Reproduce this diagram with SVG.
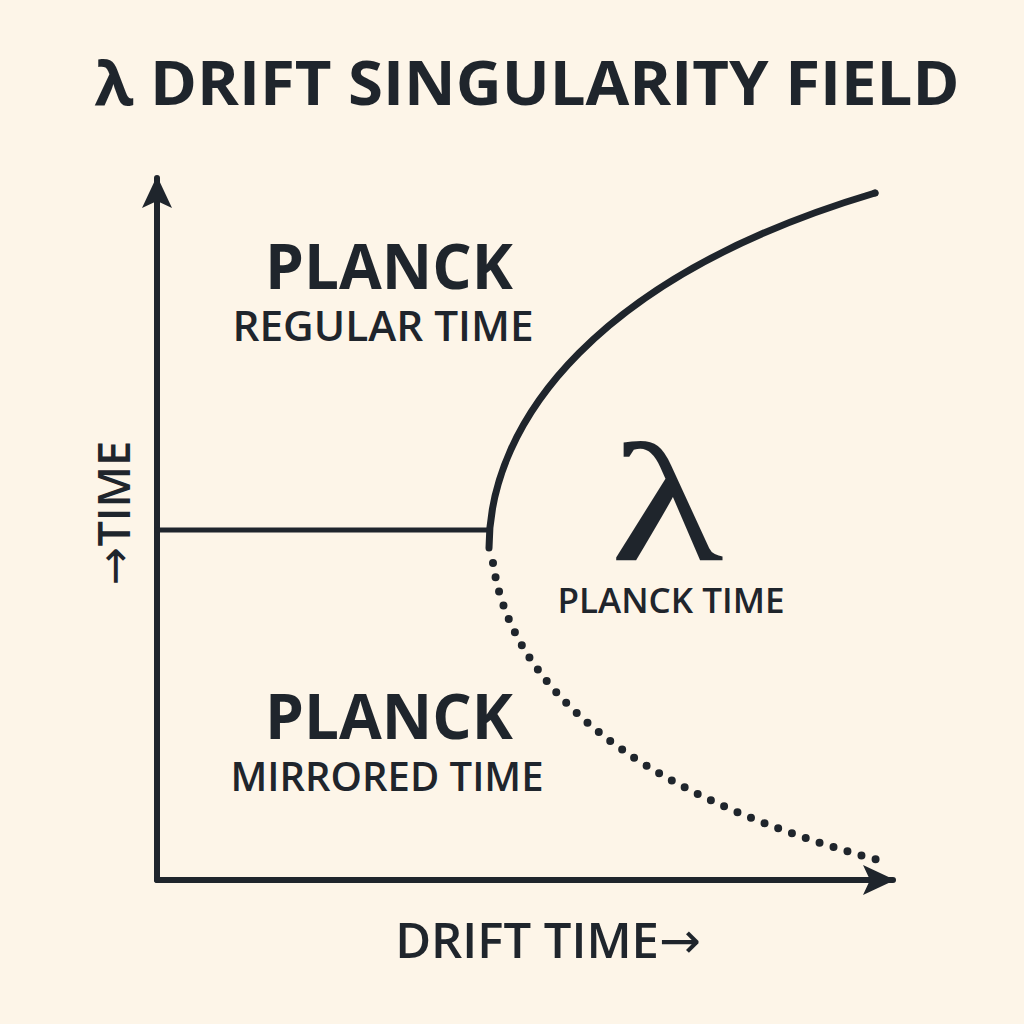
<svg xmlns="http://www.w3.org/2000/svg" width="1024" height="1024" viewBox="0 0 1024 1024">
<style>
.ink{fill:#1f252c}
.line{fill:none;stroke:#1f252c;stroke-linecap:round}
.sans{font-family:"Open Sans","Liberation Sans",sans-serif;fill:#1f252c}
.arr{font-family:"DejaVu Sans",sans-serif;font-weight:400}
</style>
<defs>
<marker id="ah" viewBox="0 0 34 32" refX="30" refY="16" markerWidth="34" markerHeight="32" markerUnits="userSpaceOnUse" orient="auto">
<path d="M0,1 L32,16 L0,31 L7,16 Z" fill="#1f252c"/>
</marker>
</defs>
<rect width="1024" height="1024" fill="#fdf5e8"/>
<g id="title">
<text class="sans" x="527" y="105" font-size="60" font-weight="700" text-anchor="middle" textLength="865" lengthAdjust="spacingAndGlyphs">λ DRIFT SINGULARITY FIELD</text>
</g>
<g id="connectors">
<line class="line" x1="157" y1="880" x2="157" y2="178" stroke-width="6" marker-end="url(#ah)"/>
<line class="line" x1="157" y1="880" x2="893" y2="880" stroke-width="6" marker-end="url(#ah)"/>
<line class="line" x1="157" y1="530" x2="489" y2="530" stroke-width="5" stroke-linecap="butt"/>
<path class="line" d="M489,548 C489,420 600,275 875,193" stroke-width="7" stroke-linecap="butt"/>
<path class="line" d="M875,193 l0,0" stroke-width="7"/>
<path class="line" d="M493,563 C510,680 620,790 878,860" stroke-width="8" stroke-dasharray="0 14.6"/>
</g>
<g id="regular">
<text class="sans" x="389" y="289" font-size="62" font-weight="700" text-anchor="middle">PLANCK</text>
<text class="sans" x="383" y="341" font-size="42" font-weight="600" text-anchor="middle" textLength="301" lengthAdjust="spacingAndGlyphs">REGULAR TIME</text>
</g>
<g id="mirrored">
<text class="sans" x="389" y="739" font-size="62" font-weight="700" text-anchor="middle">PLANCK</text>
<text class="sans" x="387" y="791" font-size="40" font-weight="600" text-anchor="middle" textLength="313" lengthAdjust="spacingAndGlyphs">MIRRORED TIME</text>
</g>
<g id="lambda">
<text x="0" y="0" transform="translate(667,560) scale(1.38,1)" font-family="'Liberation Serif','DejaVu Serif',serif" font-size="170" text-anchor="middle" fill="#1f252c">λ</text>
<text class="sans" x="671" y="613" font-size="35" font-weight="600" text-anchor="middle">PLANCK TIME</text>
</g>
<g id="xlabel">
<text class="sans" x="548" y="958" font-size="49" font-weight="600" text-anchor="middle">DRIFT TIME<tspan class="arr" font-size="50">→</tspan></text>
</g>
<g id="ylabel">
<text class="sans" transform="translate(130,513) rotate(-90)" x="0" y="0" font-size="45" font-weight="600" text-anchor="middle"><tspan class="arr" font-size="46">→</tspan>TIME</text>
</g>
</svg>
